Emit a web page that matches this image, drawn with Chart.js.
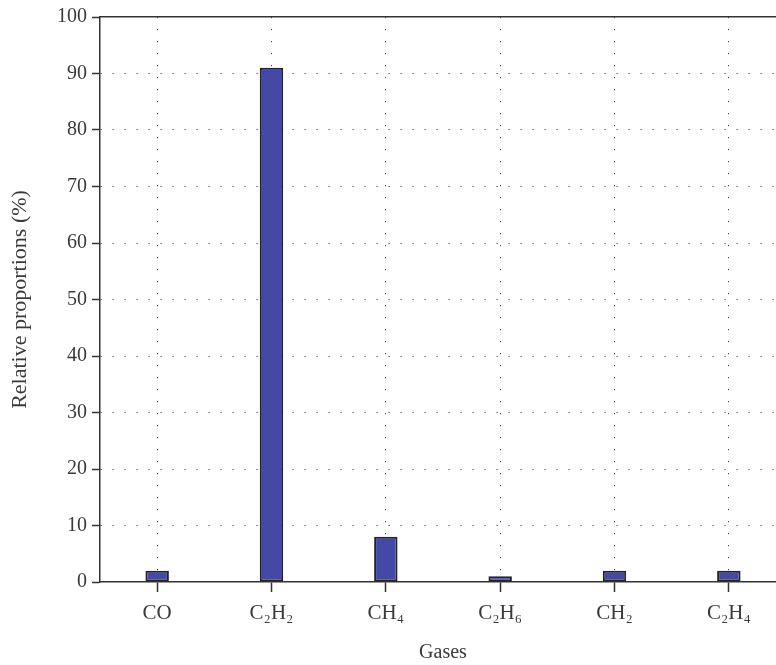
<!DOCTYPE html>
<html>
<head>
<meta charset="utf-8">
<script src="https://cdn.jsdelivr.net/npm/chart.js@4"></script>
<style>
  html, body { margin: 0; padding: 0; background: #fff; overflow: hidden; }
  #wrap { width: 776px; height: 665px; overflow: hidden; position: relative; }
  #box { width: 790px; height: 665px; position: absolute; left: 0; top: 0; }
</style>
</head>
<body>
<div id="wrap"><div id="box"><canvas id="c" width="790" height="665"></canvas></div></div>
<script>
const categories = ["CO", "C₂H₂", "CH₄", "C₂H₆", "CH₂", "C₂H₄"];
const proportions = [2, 91, 8, 1, 2, 2];
const yTicks = [0, 10, 20, 30, 40, 50, 60, 70, 80, 90, 100];

const textColor = '#3a3a3a';
const axisColor = '#333333';
const fontFamily = '"Liberation Serif", "DejaVu Serif", serif';

new Chart(document.getElementById('c'), {
  type: 'bar',
  data: {
    labels: categories,
    datasets: [{
      data: proportions,
      backgroundColor: '#4449A6',
      borderColor: '#222228',
      borderWidth: 2,
      borderSkipped: false,
      categoryPercentage: 1.0,
      barPercentage: 0.205
    }]
  },
  options: {
    responsive: false,
    animation: false,
    layout: { padding: { top: 15, right: 4, left: 0, bottom: 0 } },
    plugins: { legend: { display: false }, tooltip: { enabled: false } },
    scales: {
      x: {
        offset: true,
        grid: {
          offset: false,
          color: '#444',
          lineWidth: 1,
          drawTicks: true,
          tickLength: 10,
          tickColor: axisColor,
          tickWidth: 1.5
        },
        border: { display: true, color: axisColor, width: 1.5, dash: [1.2, 10.8] },
        ticks: { color: textColor, font: { family: fontFamily, size: 21 }, padding: 9, maxRotation: 0 },
        title: { display: true, text: 'Gases', color: textColor, font: { family: fontFamily, size: 20 }, padding: { top: 4, bottom: 0 } },
        afterFit: (s) => { s.height = 83; }
      },
      xTop: {
        type: 'category',
        position: 'top',
        labels: categories,
        grid: { display: false, drawTicks: false },
        ticks: { display: false },
        border: { display: true, color: axisColor, width: 1.5 },
        afterFit: (s) => { s.height = 0; }
      },
      y: {
        min: 0,
        max: 100,
        afterBuildTicks: (s) => { s.ticks = yTicks.map(v => ({ value: v })); },
        grid: {
          color: (ctx) => (ctx.tick && (ctx.tick.value === 0 || ctx.tick.value === 100)) ? 'rgba(0,0,0,0)' : '#444',
          lineWidth: 1,
          drawTicks: true,
          tickLength: 8,
          tickColor: axisColor,
          tickWidth: 1.5
        },
        border: { display: true, color: axisColor, width: 1.5, dash: [1.2, 10.8] },
        ticks: { color: textColor, font: { family: fontFamily, size: 20 }, padding: 5 },
        title: { display: true, text: 'Relative proportions (%)', color: textColor, font: { family: fontFamily, size: 22 }, padding: { top: 7, bottom: 8 } },
        afterFit: (s) => { s.width = 100; }
      }
    }
  }
});
</script>
</body>
</html>
